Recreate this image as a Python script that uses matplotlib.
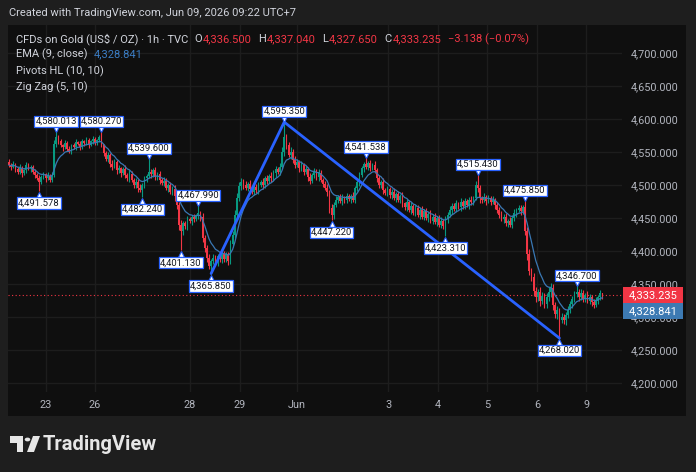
import numpy as np
import pandas as pd
import matplotlib
matplotlib.use("Agg")
import matplotlib.pyplot as plt
from matplotlib.patches import Rectangle, Polygon, Circle
from matplotlib.transforms import offset_copy

W, H = 696, 472

# ---------------- data ----------------
first_open = 4535.0
closes = [
    4530, 4527, 4532, 4524, 4520, 4526, 4518, 4522, 4530, 4525, 4528, 4520, 4515, 4510, 4505, 4512, 4516, 4510, 4514, 4508, 4515, 4562, 4572,
    4566, 4560, 4557, 4563, 4555, 4552, 4560, 4557, 4565, 4562, 4558, 4566, 4563, 4568, 4561, 4566, 4570, 4564, 4568, 4572, 4562, 4548, 4540,
    4545, 4532, 4528, 4535, 4522, 4526, 4518, 4524, 4515, 4510, 4517, 4507, 4500, 4505, 4496, 4492, 4500, 4510, 4514, 4520, 4516, 4522, 4512,
    4516, 4508, 4503, 4506, 4496, 4500, 4490, 4494, 4483, 4470, 4440, 4430, 4442, 4438, 4448, 4445, 4452, 4448, 4454, 4458, 4452, 4420, 4405,
    4390, 4378, 4385, 4390, 4383, 4393, 4388, 4395, 4388, 4395, 4385, 4410, 4425, 4455, 4480, 4498, 4505, 4500, 4496, 4502, 4494, 4490, 4497,
    4492, 4500, 4505, 4500, 4510, 4506, 4514, 4510, 4518, 4524, 4520, 4528, 4550, 4572, 4560, 4545, 4550, 4538, 4530, 4535, 4525, 4530, 4520,
    4524, 4512, 4506, 4515, 4520, 4512, 4518, 4508, 4502, 4496, 4490, 4465, 4455, 4470, 4478, 4482, 4476, 4481, 4477, 4483, 4479, 4484, 4478,
    4495, 4505, 4515, 4525, 4532, 4528, 4533, 4526, 4530, 4522, 4510, 4500, 4505, 4492, 4488, 4494, 4485, 4490, 4480, 4486, 4478, 4483, 4472,
    4466, 4474, 4462, 4468, 4458, 4465, 4455, 4462, 4452, 4460, 4450, 4456, 4446, 4452, 4444, 4450, 4440, 4446, 4438, 4448, 4455, 4462, 4468,
    4464, 4472, 4466, 4474, 4468, 4476, 4470, 4478, 4474, 4480, 4500, 4495, 4480, 4478, 4482, 4476, 4480, 4474, 4478, 4470, 4462, 4455, 4448,
    4452, 4442, 4446, 4440, 4450, 4458, 4462, 4465, 4460, 4466, 4430, 4395, 4370, 4360, 4340, 4330, 4338, 4325, 4332, 4320, 4330, 4338, 4344,
    4318, 4305, 4310, 4296, 4300, 4295, 4303, 4310, 4320, 4328, 4335, 4338, 4330, 4336, 4328, 4333, 4325, 4330, 4322, 4318, 4325, 4330, 4336.5,
    4333.235,
]
up_wick = [
    4, 3, 5, 2, 4, 6, 3, 2, 5, 4, 3, 2, 4, 3, 5, 3, 4, 2, 5, 3, 4, 6, 0,
    3, 4, 2, 5, 3, 4, 2, 3, 5, 2, 4, 3, 2, 4, 3, 2, 4, 3, 2, 3, 2, 0, 4,
    5, 3, 6, 4, 3, 5, 2, 4, 6, 3, 5, 4, 3, 6, 4, 5, 3, 4, 3, 5, 4, 3, 6,
    4, 5, 3, 6, 4, 3, 5, 4, 6, 3, 5, 7, 4, 3, 5, 4, 3, 4, 2, 0, 3, 5, 4,
    4, 6, 3, 5, 4, 3, 6, 4, 5, 3, 4, 6, 5, 7, 8, 6, 5, 4, 6, 3, 5, 4, 6,
    4, 5, 3, 6, 4, 5, 3, 6, 4, 5, 3, 5, 8, 0, 6, 5, 7, 4, 6, 5, 3, 6, 4,
    5, 4, 6, 3, 5, 4, 6, 5, 3, 4, 5, 3, 6, 4, 5, 3, 4, 6, 3, 5, 4, 3, 5,
    4, 6, 5, 4, 3, 0, 4, 5, 3, 6, 4, 5, 3, 6, 4, 5, 3, 4, 6, 3, 5, 4, 6,
    3, 5, 4, 6, 3, 5, 4, 3, 6, 4, 5, 3, 6, 4, 5, 3, 4, 6, 3, 5, 4, 6, 5,
    4, 5, 3, 6, 4, 5, 3, 4, 5, 4, 6, 0, 5, 4, 6, 3, 5, 4, 6, 3, 5, 4, 6,
    4, 5, 3, 6, 4, 5, 3, 4, 5, 3, 0, 6, 8, 5, 7, 6, 5, 7, 6, 5, 6, 8, 7,
    6, 5, 7, 4, 6, 5, 4, 6, 5, 4, 5, 0, 4, 6, 5, 4, 6, 5, 4, 6, 5, 3, 4,
    0,
]
dn_wick = [
    3, 4, 2, 5, 3, 4, 6, 3, 4, 2, 5, 3, 4, 3, 0, 4, 3, 5, 2, 4, 3, 3, 4,
    4, 3, 5, 2, 4, 3, 5, 3, 4, 2, 5, 3, 4, 3, 5, 2, 4, 3, 4, 3, 5, 4, 3,
    5, 4, 6, 3, 5, 4, 6, 3, 5, 4, 6, 3, 5, 4, 6, 3, 0, 4, 5, 3, 6, 4, 5,
    4, 6, 3, 5, 4, 6, 3, 5, 7, 6, 8, 0, 5, 4, 6, 3, 5, 4, 3, 5, 6, 7, 6,
    6, 5, 0, 4, 6, 5, 4, 6, 5, 4, 6, 5, 4, 6, 5, 4, 5, 6, 4, 5, 3, 4, 5,
    4, 5, 3, 6, 4, 5, 3, 5, 4, 6, 3, 5, 4, 6, 5, 3, 6, 4, 5, 3, 6, 4, 5,
    4, 6, 5, 3, 5, 4, 6, 3, 5, 4, 6, 7, 0, 6, 4, 5, 3, 6, 4, 5, 3, 6, 4,
    5, 4, 6, 3, 5, 4, 6, 5, 3, 4, 6, 5, 4, 6, 3, 5, 4, 6, 3, 5, 4, 6, 5,
    4, 5, 3, 6, 4, 5, 3, 6, 4, 5, 3, 6, 4, 5, 3, 6, 4, 5, 4, 0, 5, 3, 6,
    4, 5, 3, 6, 4, 5, 3, 6, 4, 5, 3, 6, 8, 5, 3, 6, 4, 5, 3, 6, 4, 5, 3,
    5, 4, 6, 3, 5, 4, 6, 3, 5, 4, 5, 8, 7, 6, 8, 7, 6, 8, 5, 7, 6, 5, 8,
    7, 6, 8, 0, 5, 6, 7, 5, 4, 6, 5, 4, 5, 4, 6, 5, 4, 6, 5, 4, 3, 5, 4,
    0,
]
pivot_bars = [14, 22, 43, 62, 65, 80, 88, 94, 128, 150, 166, 203, 218, 240, 256, 264]
pivot_vals = [4491.578, 4580.013, 4580.270, 4482.240, 4539.600, 4401.130, 4467.990, 4365.850,
              4595.350, 4447.220, 4541.538, 4423.310, 4515.430, 4475.850, 4268.020, 4346.700]
pivot_kind = ['L', 'H', 'H', 'L', 'H', 'L', 'H', 'L', 'H', 'L', 'H', 'L', 'H', 'H', 'L', 'H']
zigzag_bars = [94, 128, 256]
zigzag_vals = [4365.850, 4595.350, 4268.020]
date_ticks = [17.2, 40.0, 84.2, 107.4, 134.0, 176.3, 199.5, 222.3, 245.6, 268.4]
date_labels = ['23', '26', '28', '29', 'Jun', '3', '4', '5', '6', '9']
price_ticks = [4200, 4250, 4300, 4350, 4400, 4450, 4500, 4550, 4600, 4650, 4700]
last_ohlc = [4336.500, 4337.040, 4327.650, 4333.235]
last_change = -3.138
last_change_pct = -0.07
ema_last = 4328.841

# ---------------- derived OHLC ----------------
n = len(closes)
c = np.array(closes, dtype=float)
o = np.concatenate([[first_open], c[:-1]])
hi = np.maximum(o, c) + np.array(up_wick, dtype=float)
lo = np.minimum(o, c) - np.array(dn_wick, dtype=float)
for b, v, k in zip(pivot_bars, pivot_vals, pivot_kind):
    if k == 'H':
        hi[b] = v
    else:
        lo[b] = v
o[-1], hi[-1], lo[-1], c[-1] = last_ohlc
ema = pd.Series(c).ewm(span=9, adjust=False).mean().values
x = np.arange(n)

# ---------------- style ----------------
OUTER = '#1e1e1e'
PANEL = '#0f0f0f'
GRID = '#1d1d1d'
GREEN = '#089981'
RED = '#f23645'
BLUE = '#2962ff'
EMA_C = '#3a78b4'
TXT = '#d1d4dc'
AXT = '#b2b5be'
FONT = ['Roboto', 'DejaVu Sans']
plt.rcParams['font.family'] = FONT

fig = plt.figure(figsize=(W / 100, H / 100), dpi=100, facecolor=OUTER)

def fx(px):
    return px / W

def fy(py):
    return 1 - py / H

# chart panel
fig.patches.append(Rectangle((fx(8), fy(416)), fx(686) - fx(8), fy(25) - fy(416),
                             transform=fig.transFigure, facecolor=PANEL, edgecolor='none', zorder=-5))

ax = fig.add_axes([fx(8), fy(392), fx(622) - fx(8), fy(25) - fy(392)])
ax.set_zorder(1)
ax.set_facecolor('none')
for s in ax.spines.values():
    s.set_visible(False)

ymin, ymax = 4186.4, 4742.4
ax.set_ylim(ymin, ymax)
ax.set_xlim(-0.47, 285.1)

# grid
for p in price_ticks:
    ax.axhline(p, color=GRID, lw=1, zorder=1)
for t in date_ticks:
    ax.axvline(t, color=GRID, lw=1, zorder=1)

# candles
col = np.where(c >= o, GREEN, RED)
ax.vlines(x, lo, hi, colors=col, lw=0.8, zorder=3)
body_h = np.where(np.abs(c - o) < 0.8, 0.8, c - o)
ax.bar(x, body_h, bottom=o, width=0.8, color=col, edgecolor='none', zorder=4)

# EMA
ax.plot(x, ema, color=EMA_C, lw=0.9, zorder=5)

# zigzag
ax.plot(zigzag_bars, zigzag_vals, color=BLUE, lw=2.0, zorder=6, solid_capstyle='round')

# last price dotted line
ax.axhline(last_ohlc[3], color=RED, lw=0.8, ls=(0, (1, 2.2)), zorder=2)

# pivot labels
for b, v, k in zip(pivot_bars, pivot_vals, pivot_kind):
    if k == 'H':
        tri_tr = offset_copy(ax.transData, fig=fig, x=0, y=3, units='dots')
        ax.plot([b], [v], marker='v', ms=5, mfc='white', mec=BLUE, mew=0.8,
                transform=tri_tr, zorder=7, clip_on=False)
        ax.annotate(f"{v:,.3f}", xy=(b, v), xytext=(0, 6), textcoords='offset pixels',
                    ha='center', va='bottom', fontsize=6.8, color='#131722', zorder=8,
                    annotation_clip=False,
                    bbox=dict(boxstyle='square,pad=0.12', fc='white', ec=BLUE, lw=0.9))
    else:
        tri_tr = offset_copy(ax.transData, fig=fig, x=0, y=-4, units='dots')
        ax.plot([b], [v], marker='^', ms=5, mfc='white', mec=BLUE, mew=0.8,
                transform=tri_tr, zorder=7, clip_on=False)
        ax.annotate(f"{v:,.3f}", xy=(b, v), xytext=(0, -8), textcoords='offset pixels',
                    ha='center', va='top', fontsize=6.8, color='#131722', zorder=8,
                    annotation_clip=False,
                    bbox=dict(boxstyle='square,pad=0.12', fc='white', ec=BLUE, lw=0.9))

# axes ticks
ax.yaxis.tick_right()
ax.set_yticks(price_ticks)
ax.set_yticklabels([f"{p:,.3f}" for p in price_ticks])
ax.tick_params(axis='y', length=0, pad=6, labelsize=7.8, labelcolor=AXT)
ax.set_xticks(date_ticks)
ax.set_xticklabels(date_labels)
ax.tick_params(axis='x', length=0, pad=6, labelsize=7.8, labelcolor=AXT)

# right price boxes
fig.patches.append(Rectangle((fx(623), fy(303)), fx(683) - fx(623), fy(287) - fy(303),
                             transform=fig.transFigure, facecolor=RED, edgecolor='none', zorder=10))
fig.patches.append(Rectangle((fx(623), fy(319)), fx(683) - fx(623), fy(303) - fy(319),
                             transform=fig.transFigure, facecolor='#3d7ab3', edgecolor='none', zorder=10))
fig.text(fx(653), fy(295.5), f"{last_ohlc[3]:,.3f}", color='white', fontsize=8, ha='center', va='center', zorder=11)
fig.text(fx(653), fy(311.5), f"{ema_last:,.3f}", color='white', fontsize=8, ha='center', va='center', zorder=11)

# title
fig.text(fx(9), fy(13), "Created with TradingView.com, Jun 09, 2026 09:22 UTC+7",
         color=TXT, fontsize=8.0, ha='left', va='center')

# legend lines
renderer = fig.canvas.get_renderer()

def seq(x0, y0, pieces, size=8.0):
    xx = x0
    for s, colr, gap in pieces:
        t = fig.text(fx(xx), fy(y0), s, color=colr, fontsize=size, ha='left', va='center', zorder=12)
        bb = t.get_window_extent(renderer)
        xx += bb.width + gap

seq(16, 39, [("CFDs on Gold (US$ / OZ) · 1h · TVC", TXT, 6),
             ("O", TXT, 0.5), (f"{last_ohlc[0]:,.3f}", RED, 7),
             ("H", TXT, 0.5), (f"{last_ohlc[1]:,.3f}", RED, 7),
             ("L", TXT, 0.5), (f"{last_ohlc[2]:,.3f}", RED, 7),
             ("C", TXT, 0.5), (f"{last_ohlc[3]:,.3f}", RED, 7),
             (f"\u2212{abs(last_change):.3f} (\u2212{abs(last_change_pct):.2f}%)", RED, 0)])
seq(16, 54, [("EMA (9, close)", TXT, 6), (f"{ema_last:,.3f}", '#3b7dc4', 0)])
seq(16, 71, [("Pivots HL (10, 10)", TXT, 0)])
seq(16, 87, [("Zig Zag (5, 10)", TXT, 0)])

# TradingView logo
LOGO = '#e6e6e6'
def P(pts):
    return [(fx(a), fy(b)) for a, b in pts]
fig.patches.append(Polygon(P([(10, 436), (23, 436), (23, 452), (17, 452), (17, 442.5), (10, 442.5)]),
                           closed=True, transform=fig.transFigure, fc=LOGO, ec='none'))
fig.patches.append(Circle((fx(27.5), fy(439.5)), 2.8 / W, transform=fig.transFigure, fc=LOGO, ec='none'))
fig.patches.append(Polygon(P([(33, 436), (40, 436), (34, 452), (27, 452)]),
                           closed=True, transform=fig.transFigure, fc=LOGO, ec='none'))
fig.text(fx(43), fy(444.5), "TradingView", color=LOGO, fontsize=14.5, fontweight='bold',
         ha='left', va='center', family=['Roboto', 'DejaVu Sans'])

fig.savefig("out.png", dpi=100, facecolor=OUTER)
